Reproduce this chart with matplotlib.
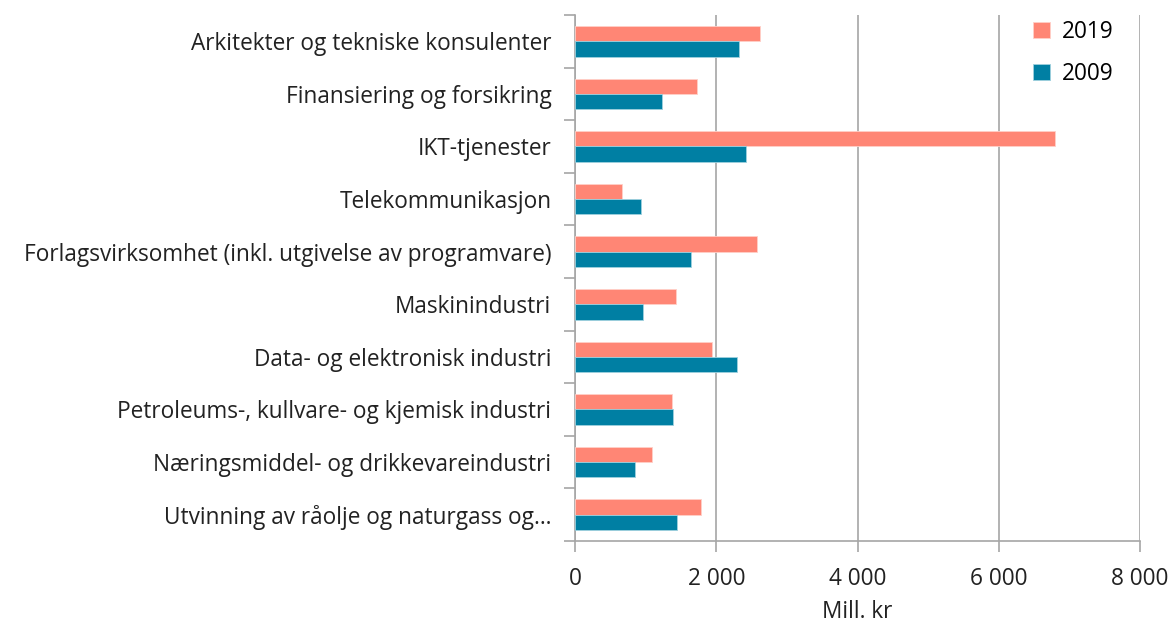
import matplotlib.pyplot as plt
import numpy as np
from matplotlib.ticker import FuncFormatter

plt.rcParams['font.family'] = ['Open Sans', 'DejaVu Sans']

# kategorier, ovenfra og ned
naeringer = [
    "Arkitekter og tekniske konsulenter",
    "Finansiering og forsikring",
    "IKT-tjenester",
    "Telekommunikasjon",
    "Forlagsvirksomhet (inkl. utgivelse av programvare)",
    "Maskinindustri",
    "Data- og elektronisk industri",
    "Petroleums-, kullvare- og kjemisk industri",
    "Næringsmiddel- og drikkevareindustri",
    "Utvinning av råolje og naturgass og…",
]
v2019 = [2613, 1727, 6798, 670, 2576, 1424, 1934, 1377, 1085, 1783]
v2009 = [2316, 1231, 2415, 929, 1646, 962, 2293, 1382, 849, 1448]

c2019 = "#ff8675"
c2009 = "#007fa3"
grey = "#a6a6a6"
txt = "#222222"

fig = plt.figure(figsize=(11.74, 6.22), dpi=100)
ax = fig.add_axes([575 / 1174, 1 - 541 / 622, 565 / 1174, 526 / 622])

n = len(naeringer)
y = np.arange(n)
h = 0.29
ax.barh(y - h / 2, v2019, height=h, color=c2019, edgecolor="#ffd0c8", linewidth=0.6, label="2019", zorder=3)
ax.barh(y + h / 2, v2009, height=h, color=c2009, edgecolor="#9fd0de", linewidth=0.6, label="2009", zorder=3)

ax.set_ylim(n - 0.5, -0.5)
ax.set_xlim(0, 8000)

ax.set_yticks(y)
ax.set_yticklabels(naeringer, fontsize=16.3, color=txt)
ax.set_yticks(np.arange(-0.5, n, 1), minor=True)
ax.tick_params(axis="y", which="major", length=0, pad=17)
ax.tick_params(axis="y", which="minor", length=8, width=1.2, color=grey, direction="out")

ax.set_xticks([0, 2000, 4000, 6000, 8000])
ax.xaxis.set_major_formatter(FuncFormatter(lambda v, p: f"{int(v):,}".replace(",", " ")))
ax.tick_params(axis="x", length=8, width=1.2, color=grey, direction="out", labelsize=16.3, pad=11, labelcolor=txt)
ax.set_xlabel("Mill. kr", fontsize=16.3, color=txt, labelpad=6)

ax.grid(axis="x", color=grey, linewidth=1.2, zorder=0)
for s in ["top", "right"]:
    ax.spines[s].set_visible(False)
for s in ["left", "bottom"]:
    ax.spines[s].set_color(grey)
    ax.spines[s].set_linewidth(1.2)

leg = ax.legend(loc="upper right", bbox_to_anchor=(0.985, 1.025), frameon=True, facecolor="white",
                edgecolor="none", fontsize=16.3, handlelength=0.75, handleheight=0.75,
                labelspacing=0.8, handletextpad=0.5, borderpad=0.3)
leg.get_frame().set_alpha(1)

fig.savefig("out.png", dpi=100)
